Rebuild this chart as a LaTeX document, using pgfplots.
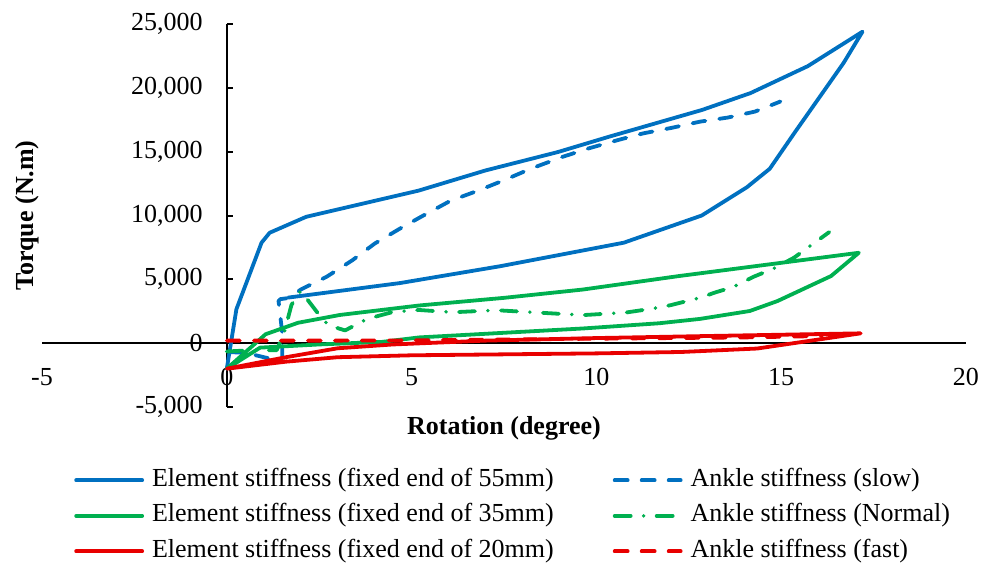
\documentclass[border=0pt]{standalone}
\usepackage{fontspec}
\setmainfont{Liberation Serif}
\usepackage{pgfplots}
\pgfplotsset{compat=1.18}
\definecolor{cblue}{RGB}{0,112,192}
\definecolor{cgreen}{RGB}{0,176,80}
\definecolor{cred}{RGB}{232,0,0}

\pgfplotstableread{
x y
0 -2000
0.26 2660
0.94 7870
1.16 8650
2.15 9900
5.19 11950
7.0 13530
8.97 14980
10.34 16170
12.86 18270
14.17 19590
15.72 21700
17.2 24400
16.69 21960
15.38 16560
14.69 13660
14.07 12210
12.85 10000
10.74 7870
7.4 6030
4.69 4710
1.66 3570
}\eFiftyFive

\pgfplotstableread{
x y
0.05 -700
0.5 -750
1.15 -1200
1.5 -1200
1.5 800
1.4 3300
1.45 3450
1.7 3550
2.0 4200
2.7 5200
3.4 6500
4.0 7800
4.7 9000
5.3 9970
6.05 11150
6.8 11950
7.48 12740
8.22 13660
9.08 14590
9.77 15240
10.57 15900
11.26 16430
12.06 16880
12.8 17350
13.55 17670
14.29 18140
14.98 18930
}\aSlow

\pgfplotstableread{
x y
0 -2000
1.05 700
1.93 1600
3.06 2210
5.2 2950
7.5 3550
9.63 4200
12.24 5260
17.1 7080
16.35 5260
14.9 3300
14.15 2520
12.8 1900
11.7 1560
9.63 1150
5.2 450
4.2 100
2.5 -100
0.9 -350
0 -2000
}\eThirtyFive

\pgfplotstableread{
x y
0 -650
0.7 -550
1.35 -550
1.55 800
1.75 3000
2.0 4100
2.45 2400
2.75 1400
3.2 1000
3.8 1900
4.5 2450
5.2 2600
6.1 2420
7.3 2580
9.0 2300
9.65 2200
10.8 2400
11.5 2700
12.0 2970
12.8 3550
13.2 3960
13.7 4400
14.25 5200
14.8 5850
15.35 6700
15.8 7650
16.3 8700
}\aNormal

\pgfplotstableread{
x y
0 -2000
1.6 -1100
3.0 -400
4.5 -100
7.0 200
10.0 400
12.8 550
17.15 770
14.35 -420
12.3 -690
10.0 -800
5.0 -950
3.0 -1100
1.6 -1450
0 -2000
}\eTwenty

\pgfplotstableread{
x y
0 200
3 200
5 220
8 300
10 350
12 400
14 450
16.1 560
}\aFast

\begin{document}
\begin{tikzpicture}[font=\fontsize{13pt}{15.6pt}\selectfont]
\begin{axis}[
  scale only axis, width=462pt, height=191.5pt,
  xmin=-5, xmax=20, ymin=-5000, ymax=25000,
  axis lines=middle,
  axis line style={-, line width=1pt, black},
  xtick={-5,0,5,10,15,20},
  ytick={-5000,0,5000,10000,15000,20000,25000},
  scaled y ticks=false,
  hide obscured x ticks=false, hide obscured y ticks=false,
  xtick style={draw=none},
  ytick style={line width=1pt, black},
  tick align=inside, major tick length=3pt,
  /pgf/number format/assume math mode=true,
  yticklabel style={/pgf/number format/fixed, /pgf/number format/precision=0, /pgf/number format/1000 sep={,}, xshift=-8.5pt},
  xticklabel style={yshift=-9pt},
  xlabel={\textbf{Rotation (degree)}},
  ylabel={\textbf{Torque (N.m)}},
  xlabel style={at={(axis description cs:0.5,-0.0561)}, anchor=center},
  ylabel style={at={(axis description cs:-0.01645,0.5)}, anchor=center, rotate=90},
  legend columns=2,
  legend cell align=left,
  legend style={draw=none, fill=none, at={(axis description cs:0.0345,-0.154)}, anchor=north west,
    inner sep=0pt, row sep=3.75pt, column sep=4pt,
    nodes={inner xsep=0pt, inner ysep=0pt, text height=10pt, text depth=4pt},
    /tikz/every even column/.append style={column sep=29.5pt}},
  legend image code/.code={\draw[#1] (0pt,0pt) -- (33pt,0pt);},
  every axis plot/.append style={line width=1.9pt, line join=round},
]
\addplot[cblue, line cap=round] table {\eFiftyFive};
\addlegendentry{Element stiffness (fixed end of 55mm)}
\addplot[cblue, line cap=round, dash pattern=on 6.5pt off 7pt] table {\aSlow};
\addlegendentry{Ankle stiffness (slow)}
\addplot[cgreen, line cap=round] table {\eThirtyFive};
\addlegendentry{Element stiffness (fixed end of 35mm)}
\addplot[cgreen, line cap=round, dash pattern=on 8pt off 6.5pt on 0pt off 6.5pt] table {\aNormal};
\addlegendentry{Ankle stiffness (Normal)}
\addplot[cred, line cap=round] table {\eTwenty};
\addlegendentry{Element stiffness (fixed end of 20mm)}
\addplot[cred, line cap=round, dash pattern=on 6.5pt off 7pt] table {\aFast};
\addlegendentry{Ankle stiffness (fast)}
\end{axis}
\pgfresetboundingbox
\path (-21pt,-78pt) rectangle (470pt,203.5pt);
\end{tikzpicture}
\end{document}
